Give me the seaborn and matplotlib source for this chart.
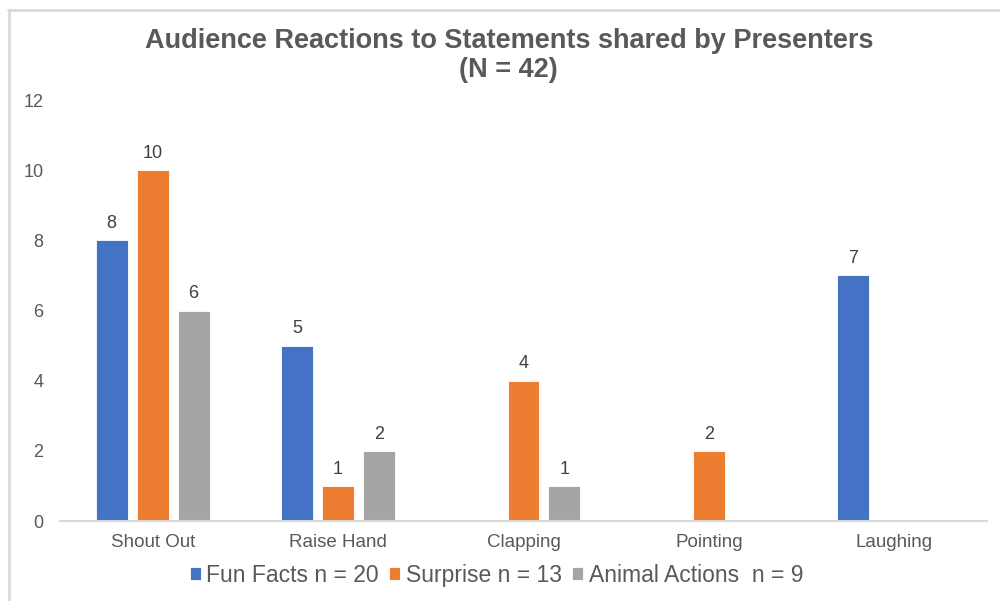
import matplotlib
matplotlib.use("Agg")
import matplotlib.pyplot as plt
from matplotlib.lines import Line2D
import pandas as pd
import seaborn as sns

# Chart data
categories = ["Shout Out", "Raise Hand", "Clapping", "Pointing", "Laughing"]
series_names = ["Fun Facts n = 20", "Surprise n = 13", "Animal Actions  n = 9"]
fun_facts = [8, 5, 0, 0, 7]
surprise = [10, 1, 4, 2, 0]
animal_actions = [6, 2, 1, 0, 0]
y_ticks = [0, 2, 4, 6, 8, 10, 12]
colors = ["#4472C4", "#ED7D31", "#A5A5A5"]

rows = []
for name, vals in zip(series_names, [fun_facts, surprise, animal_actions]):
    for cat, v in zip(categories, vals):
        rows.append({"Reaction": cat, "Count": v, "Statement": name})
df = pd.DataFrame(rows)

sns.set_theme(style="white")
plt.rcParams["font.family"] = ["Liberation Sans", "DejaVu Sans"]

fig = plt.figure(figsize=(10, 6.01), dpi=100)
ax = fig.add_axes([0.06, 0.133, 0.927, 0.7006])

sns.barplot(data=df, x="Reaction", y="Count", hue="Statement",
            order=categories, hue_order=series_names, palette=colors,
            width=0.663, gap=0.22, saturation=1, ax=ax, legend=True,
            edgecolor="white", linewidth=0.6)

# value labels on non-zero bars
for container in ax.containers:
    labels = [f"{int(b.get_height())}" if b.get_height() > 0 else "" for b in container]
    ax.bar_label(container, labels=labels, padding=6, fontsize=13, color="#404040")

ax.set_xlim(-0.5, 4.5)
ax.set_ylim(0, 12)
ax.set_yticks(y_ticks)
ax.set_xlabel("")
ax.set_ylabel("")
ax.tick_params(axis="y", length=0, labelsize=13, labelcolor="#595959", pad=12)
ax.tick_params(axis="x", length=0, labelsize=13.5, labelcolor="#595959", pad=9)
for side in ["left", "right", "top"]:
    ax.spines[side].set_visible(False)
ax.spines["bottom"].set_color("#D9D9D9")
ax.spines["bottom"].set_linewidth(1.5)

ax.legend_.remove()
handles, labels = ax.get_legend_handles_labels()
fig.legend(handles, labels, loc="center", bbox_to_anchor=(0.4965, 0.043),
           ncol=3, frameon=False, fontsize=16.5, labelcolor="#595959",
           handlelength=0.48, handleheight=0.48, handletextpad=0.24,
           columnspacing=0.46)

fig.text(0.509, 1 - 41 / 601, "Audience Reactions to Statements shared by Presenters",
         ha="center", va="center", fontsize=19.5, fontweight="bold", color="#595959")
fig.text(0.508, 1 - 70 / 601, "(N = 42)",
         ha="center", va="center", fontsize=19.5, fontweight="bold", color="#595959")

# chart frame edges
fig.add_artist(Line2D([0.008, 1.0], [1 - 10 / 601, 1 - 10 / 601],
                      transform=fig.transFigure, color="#D9D9D9", linewidth=2))
fig.add_artist(Line2D([0.009, 0.009], [0.0, 1 - 10 / 601],
                      transform=fig.transFigure, color="#D9D9D9", linewidth=2))

fig.savefig("out.png", dpi=100, facecolor="white")
